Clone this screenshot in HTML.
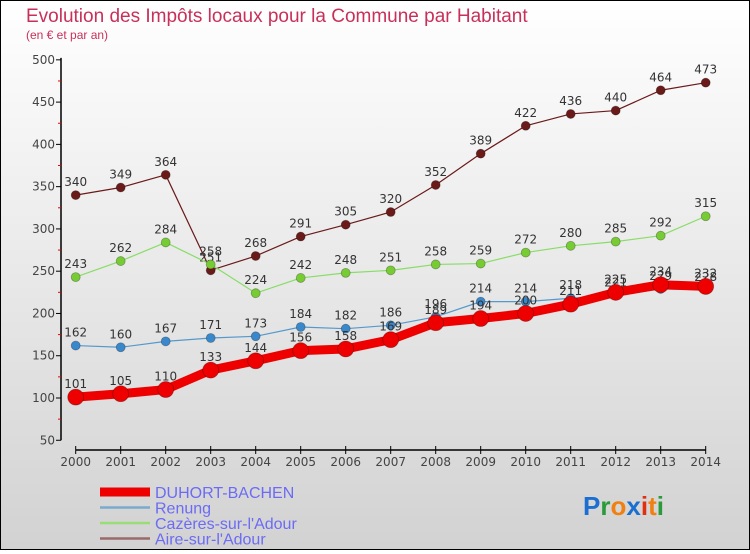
<!DOCTYPE html>
<html><head><meta charset="utf-8"><style>
body{margin:0;width:750px;height:550px;overflow:hidden;font-family:"DejaVu Sans","Liberation Sans",sans-serif}
</style></head><body>
<svg id="chart" width="750" height="550" xmlns="http://www.w3.org/2000/svg">
<defs><linearGradient id="bg" x1="0" y1="0" x2="0" y2="1"><stop offset="0" stop-color="#ffffff"/><stop offset="1" stop-color="#d2d2d2"/></linearGradient></defs>
<rect x="0.5" y="0.5" width="749" height="549" fill="url(#bg)" stroke="#000"/>
<text x="26" y="22" font-size="19" fill="#c8305a" font-family="Liberation Sans, sans-serif" font-weight="300">Evolution des Impôts locaux pour la Commune par Habitant</text>
<text x="26" y="39" font-size="12" fill="#c8305a" font-family="Liberation Sans, sans-serif">(en € et par an)</text>
<g id="axes"></g><g id="series"></g><g id="legend"></g>
<text x="583" y="515" font-size="26" font-family="Liberation Sans, sans-serif" font-weight="bold"><tspan fill="#1a6fd0">P</tspan><tspan fill="#2a9a3a">r</tspan><tspan fill="#f08010">o</tspan><tspan fill="#1a6fd0">x</tspan><tspan fill="#e03010">i</tspan><tspan fill="#f08010">t</tspan><tspan fill="#2a9a3a">i</tspan></text>
</svg>
<script>
const years=[2000,2001,2002,2003,2004,2005,2006,2007,2008,2009,2010,2011,2012,2013,2014];
const duhort=[101,105,110,133,144,156,158,169,189,194,200,211,225,234,232];
const renung=[162,160,167,171,173,184,182,186,196,214,214,218,221,229,228];
const cazeres=[243,262,284,258,224,242,248,251,258,259,272,280,285,292,315];
const aire=[340,349,364,251,268,291,305,320,352,389,422,436,440,464,473];
const yTicks=[50,100,150,200,250,300,350,400,450,500];
const NS="http://www.w3.org/2000/svg";
const X=i=>75.7+i*45;
const Y=v=>398-(v-100)*42.27/50;
function mk(tag,attrs,parent){const e=document.createElementNS(NS,tag);for(const k in attrs)e.setAttribute(k,attrs[k]);parent.appendChild(e);return e;}
const ax=document.getElementById('axes');
let yl=mk('line',{x1:61,y1:Y(500)-2,x2:61,y2:Y(50),stroke:'#000','stroke-width':1.5},ax);


yTicks.forEach(v=>{
 const t=mk('line',{x1:56,y1:Y(v),x2:61,y2:Y(v),stroke:'#000'},ax);
 
 
 const l=mk('text',{x:55,y:Y(v)+4,'text-anchor':'end','font-size':12,fill:'#444'},ax);
 l.textContent=v;
 
 
 if(v<500){const m=mk('line',{x1:58,y1:Y(v+25),x2:61,y2:Y(v+25),stroke:'#e00'},ax);
 
 }
});
let xl=mk('line',{x1:X(0),y1:450,x2:X(14),y2:450,stroke:'#000','stroke-width':1.5},ax);


years.forEach((yr,i)=>{
 const t=mk('line',{x1:X(i),y1:446,x2:X(i),y2:454,stroke:'#000'},ax);
 
 
 const l=mk('text',{x:X(i),y:466,'text-anchor':'middle','font-size':12,fill:'#444'},ax);
 l.textContent=yr;
 
 
});
const sg=document.getElementById('series');
const defs=[
 {name:'aire',data:aire,color:'#6b1a1a',fill:'#6b1a1a',w:1.2,r:4.5,label:"Aire-sur-l'Adour",lc:'#9a6a6a'},
 {name:'cazeres',data:cazeres,color:'#88dd66',fill:'#77cc33',w:1.2,r:4.5,label:"Cazères-sur-l'Adour",lc:'#99dd77'},
 {name:'renung',data:renung,color:'#5599cc',fill:'#3a88cc',w:1.2,r:4.5,label:'Renung',lc:'#7aaacc'},
 {name:'duhort',data:duhort,color:'#ee0000',fill:'#ee0000',w:9,r:8,label:'DUHORT-BACHEN',lc:'#ee0000'}
];
defs.forEach(s=>{
 const g=mk('g',{},sg);
 
 
 const p=mk('polyline',{points:s.data.map((v,i)=>X(i)+','+Y(v)).join(' '),fill:'none',stroke:s.color,'stroke-width':s.w,'stroke-linejoin':'round'},g);
 
 
 s.data.forEach((v,i)=>{
  const c=mk('circle',{cx:X(i),cy:Y(v),r:s.r,fill:s.fill,stroke:'rgba(0,0,0,0.3)','stroke-width':0.8},g);
  
  
  const t=mk('text',{x:X(i),y:Y(v)-9,'text-anchor':'middle','font-size':12,fill:'#333'},g);
  t.textContent=v;
  
  
 });
});
const lg=document.getElementById('legend');
const order=[defs[3],defs[2],defs[1],defs[0]];
order.forEach((s,k)=>{
 const y=492+k*15.5;
 const l=mk('line',{x1:100,y1:y,x2:150,y2:y,stroke:s.lc,'stroke-width':k==0?9:2.5},lg);
 
 
 const t=mk('text',{x:155,y:y+6,'font-size':16,fill:'#6b6bf5','font-family':'Liberation Sans, sans-serif'},lg);
 t.textContent=s.label;
 
 
});
</script>
</body></html>
